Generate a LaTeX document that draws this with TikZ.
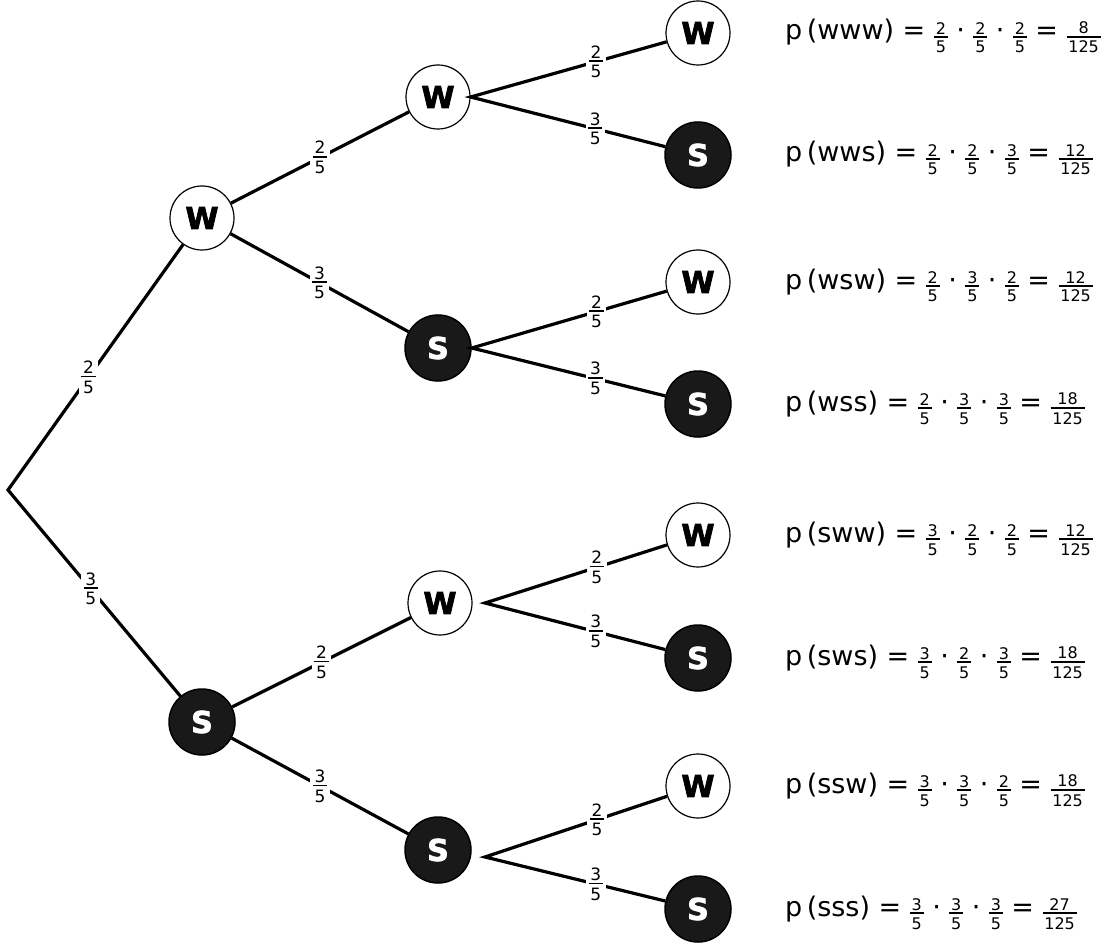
\documentclass[tikz,border=0pt]{standalone}
\usepackage{fontspec}
\setmainfont{DejaVu Sans}
\newfontfamily\heavy[FakeBold=2.5]{DejaVu Sans Bold}
% stacked fraction box: #1 size, #2 numerator, #3 denominator
\newcommand\stkbox[3]{\vbox{\fontsize{#1}{#1}\selectfont\halign{\hfil\kern1.8pt##\kern1.8pt\hfil\cr #2\cr\noalign{\kern2pt\hrule height 1.6pt\kern3.5pt}#3\cr}}}
\newcommand\efr[2]{\ensuremath{\vcenter{\hbox{\stkbox{17}{#1}{#2}}}}}
\newcommand\ffr[2]{\lower13pt\hbox{\stkbox{16}{#1}{#2}}}
\newcommand\fml[5]{p\,(#1) = \ffr{#2}{5} · \ffr{#3}{5} · \ffr{#4}{5} = \ffr{#5}{125}}
\begin{document}
\begin{tikzpicture}[x=1pt,y=-1pt,
  wnode/.style={circle, draw=black, line width=1.2pt, fill=white, minimum size=64pt, inner sep=0pt, font=\heavy\fontsize{30}{30}\selectfont},
  snode/.style={circle, draw=black, line width=1.5pt, fill=black!90, text=white, minimum size=66pt, inner sep=0pt, font=\heavy\fontsize{30}{30}\selectfont},
  conn/.style={line width=3.2pt, line join=miter},
  lbl/.style={fill=white, inner xsep=2.5pt, inner ysep=1pt},
  formula/.style={anchor=base west, inner sep=0pt, font=\fontsize{27}{32}\selectfont}]
\useasboundingbox (0,0) rectangle (1106,944);
% nodes
\coordinate (r) at (8,490);
\node[wnode] (a) at (202,218) {W};
\node[snode] (b) at (202,722) {S};
\node[wnode] (aa) at (438,97) {W};
\node[snode] (ab) at (438,348) {S};
\node[wnode] (ba) at (440,603) {W};
\node[snode] (bb) at (438,850) {S};
\node[wnode] (aaa) at (698,33) {W};
\node[snode] (aab) at (698,155) {S};
\node[wnode] (aba) at (698,282) {W};
\node[snode] (abb) at (698,404) {S};
\node[wnode] (baa) at (698,535) {W};
\node[snode] (bab) at (698,658) {S};
\node[wnode] (bba) at (698,786) {W};
\node[snode] (bbb) at (698,909) {S};
\coordinate (ja) at (aa.east);
\coordinate (jb) at (ab.east);
\coordinate (jc) at (485,603);
\coordinate (jd) at (485,857);
% connectors
\draw[conn] (a) -- node[lbl,pos=0.54]{\efr{2}{5}} (r) -- node[lbl,pos=0.48]{\efr{3}{5}} (b);
\draw[conn] (a) -- node[lbl]{\efr{2}{5}} (aa);
\draw[conn] (a) -- node[lbl]{\efr{3}{5}} (ab);
\draw[conn] (b) -- node[lbl]{\efr{2}{5}} (ba);
\draw[conn] (b) -- node[lbl]{\efr{3}{5}} (bb);
\draw[conn] (aaa) -- node[lbl,pos=0.36]{\efr{2}{5}} (ja) -- node[lbl,pos=0.64]{\efr{3}{5}} (aab);
\draw[conn] (aba) -- node[lbl,pos=0.36]{\efr{2}{5}} (jb) -- node[lbl,pos=0.64]{\efr{3}{5}} (abb);
\draw[conn] (baa) -- node[lbl,pos=0.385]{\efr{2}{5}} (jc) -- node[lbl,pos=0.615]{\efr{3}{5}} (bab);
\draw[conn] (bba) -- node[lbl,pos=0.385]{\efr{2}{5}} (jd) -- node[lbl,pos=0.615]{\efr{3}{5}} (bbb);
% formulas
\node[formula] (f1) at (785,40) {\fml{www}{2}{2}{2}{8}};
\node[formula] (f2) at (785,162) {\fml{wws}{2}{2}{3}{12}};
\node[formula] (f3) at (785,289) {\fml{wsw}{2}{3}{2}{12}};
\node[formula] (f4) at (785,411) {\fml{wss}{2}{3}{3}{18}};
\node[formula] (f5) at (785,542) {\fml{sww}{3}{2}{2}{12}};
\node[formula] (f6) at (785,665) {\fml{sws}{3}{2}{3}{18}};
\node[formula] (f7) at (785,793) {\fml{ssw}{3}{3}{2}{18}};
\node[formula] (f8) at (785,916) {\fml{sss}{3}{3}{3}{27}};
\end{tikzpicture}
\end{document}
